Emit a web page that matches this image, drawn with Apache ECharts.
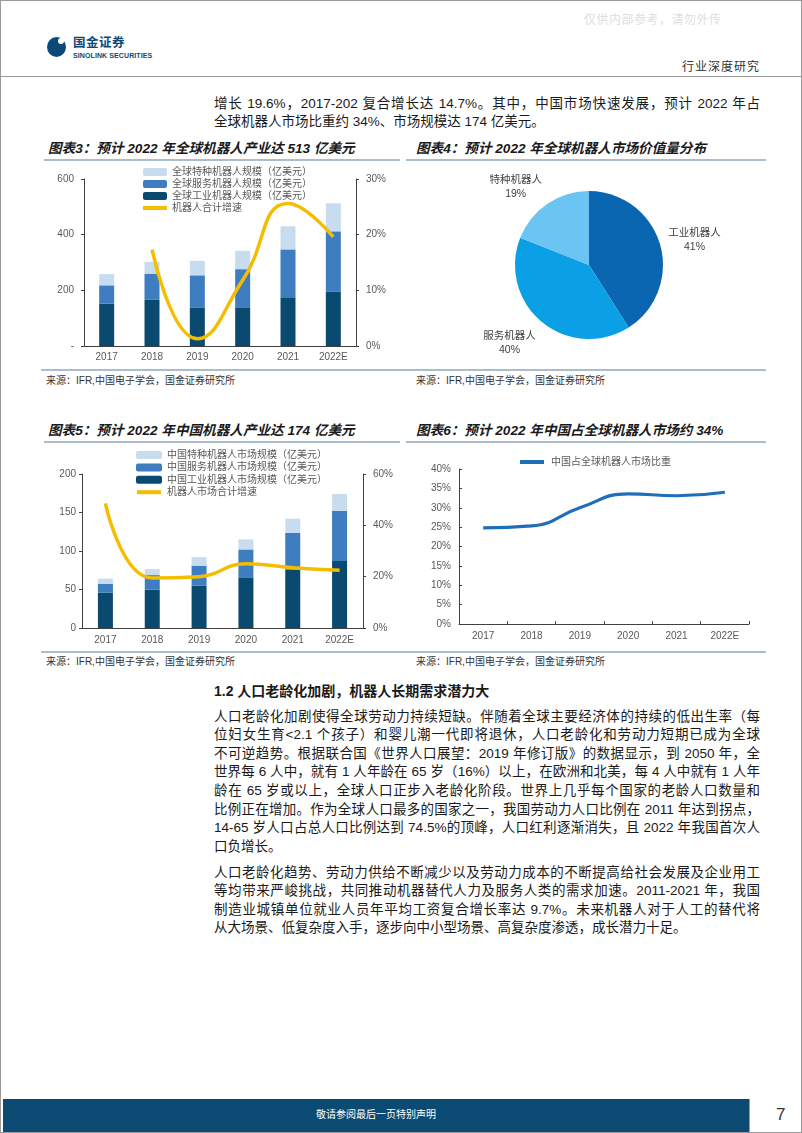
<!DOCTYPE html>
<html>
<head>
<meta charset="utf-8">
<script src="https://cdn.jsdelivr.net/npm/echarts@6/dist/echarts.min.js"></script>
<style>
  html,body{margin:0;padding:0;background:#fff;}
  #page{position:relative;width:802px;height:1133px;border:1px solid #9a9a9a;box-sizing:border-box;overflow:hidden;
    font-family:'Liberation Sans','Noto Sans CJK SC',sans-serif;color:#1a1a1a;}
  .abs{position:absolute;white-space:nowrap;}
  .title{font-size:13.6px;font-weight:bold;font-style:italic;line-height:16px;color:#1a1a1a;}
  .rule{position:absolute;height:2px;background:#a9bdcc;}
  .src{font-size:10px;line-height:12px;color:#333;}
  .para div{height:18.6px;line-height:18.6px;font-size:13.5px;width:546px;text-align:justify;text-align-last:justify;white-space:nowrap;}
  .para div.last{text-align-last:left;}
  .chart{position:absolute;}
</style>
</head>
<body>
<div id="page">
  <div class="abs" style="left:583px;top:9px;font-size:12px;color:#dedede;letter-spacing:0.5px;">仅供内部参考，请勿外传</div>
  <div class="abs" style="left:46px;top:36px;width:19px;height:20px;border-radius:50%;background:#0b4a78;"></div>
  <div class="abs" style="left:57px;top:37px;width:6px;height:6px;border-radius:50%;background:#fff;"></div>
  <div class="abs" style="left:72px;top:35px;font-size:12.5px;font-weight:bold;color:#0b4a78;line-height:15px;letter-spacing:0.5px;">国金证券</div>
  <div class="abs" style="left:72px;top:50px;font-size:7px;font-weight:bold;color:#0b4a78;line-height:9px;letter-spacing:0.1px;">SINOLINK SECURITIES</div>
  <div class="abs" style="left:681px;top:59px;font-size:12px;line-height:14px;color:#333;letter-spacing:1px;">行业深度研究</div>
  <div class="abs" style="left:0;top:75px;width:802px;height:1px;background:#9a9a9a;"></div>

  <div class="abs para" style="left:213px;top:93.7px;">
    <div>增长 19.6%，2017-202 复合增长达 14.7%。其中，中国市场快速发展，预计 2022 年占</div>
    <div class="last">全球机器人市场比重约 34%、市场规模达 174 亿美元。</div>
  </div>

  <div class="abs title" style="left:47px;top:140px;">图表3：预计 2022 年全球机器人产业达 513 亿美元</div>
  <div class="abs title" style="left:415px;top:140px;">图表4：预计 2022 年全球机器人市场价值量分布</div>
  <div class="rule" style="left:43px;top:158px;width:356px;"></div>
  <div class="rule" style="left:405px;top:158px;width:360px;"></div>

  <div id="c3" class="chart" style="left:40px;top:162px;width:360px;height:205px;"></div>
  <div id="c4" class="chart" style="left:405px;top:162px;width:360px;height:205px;"></div>

  <div class="rule" style="left:40px;top:368px;width:725px;"></div>
  <div class="abs src" style="left:45px;top:374px;">来源：IFR,中国电子学会，国金证券研究所</div>
  <div class="abs src" style="left:415px;top:374px;">来源：IFR,中国电子学会，国金证券研究所</div>

  <div class="abs title" style="left:47px;top:422px;">图表5：预计 2022 年中国机器人产业达 174 亿美元</div>
  <div class="abs title" style="left:415px;top:422px;">图表6：预计 2022 年中国占全球机器人市场约 34%</div>
  <div class="rule" style="left:43px;top:440px;width:356px;"></div>
  <div class="rule" style="left:405px;top:440px;width:360px;"></div>

  <div id="c5" class="chart" style="left:40px;top:445px;width:360px;height:205px;"></div>
  <div id="c6" class="chart" style="left:405px;top:445px;width:360px;height:205px;"></div>

  <div class="rule" style="left:40px;top:650px;width:725px;"></div>
  <div class="abs src" style="left:45px;top:655px;">来源：IFR,中国电子学会，国金证券研究所</div>
  <div class="abs src" style="left:415px;top:655px;">来源：IFR,中国电子学会，国金证券研究所</div>

  <div class="abs" style="left:213px;top:681px;font-size:14px;font-weight:bold;line-height:18px;">1.2 人口老龄化加剧，机器人长期需求潜力大</div>

  <div class="abs para" style="left:213px;top:706.7px;">
    <div>人口老龄化加剧使得全球劳动力持续短缺。伴随着全球主要经济体的持续的低出生率（每</div>
    <div>位妇女生育&lt;2.1 个孩子）和婴儿潮一代即将退休，人口老龄化和劳动力短期已成为全球</div>
    <div>不可逆趋势。根据联合国《世界人口展望：2019 年修订版》的数据显示，到 2050 年，全</div>
    <div>世界每 6 人中，就有 1 人年龄在 65 岁（16%）以上，在欧洲和北美，每 4 人中就有 1 人年</div>
    <div>龄在 65 岁或以上，全球人口正步入老龄化阶段。世界上几乎每个国家的老龄人口数量和</div>
    <div>比例正在增加。作为全球人口最多的国家之一，我国劳动力人口比例在 2011 年达到拐点，</div>
    <div>14-65 岁人口占总人口比例达到 74.5%的顶峰，人口红利逐渐消失，且 2022 年我国首次人</div>
    <div class="last">口负增长。</div>
  </div>
  <div class="abs para" style="left:213px;top:862.7px;">
    <div>人口老龄化趋势、劳动力供给不断减少以及劳动力成本的不断提高给社会发展及企业用工</div>
    <div>等均带来严峻挑战，共同推动机器替代人力及服务人类的需求加速。2011-2021 年，我国</div>
    <div>制造业城镇单位就业人员年平均工资复合增长率达 9.7%。未来机器人对于人工的替代将</div>
    <div class="last">从大场景、低复杂度入手，逐步向中小型场景、高复杂度渗透，成长潜力十足。</div>
  </div>

  <div class="abs" style="left:2px;top:1098px;width:746px;height:33px;background:#0b4a72;"></div>
  <div class="abs" style="left:2px;top:1108px;width:746px;text-align:center;font-size:10px;line-height:12px;color:#fff;">敬请参阅最后一页特别声明</div>
  <div class="abs" style="left:748px;top:1098px;width:1px;height:33px;background:#9a9a9a;"></div>
  <div class="abs" style="left:775px;top:1104px;font-size:17px;line-height:20px;color:#333;">7</div>
</div>

<script>
// ---------- data ----------
var years = ['2017', '2018', '2019', '2020', '2021', '2022E'];

var globalIndustrial = [152, 166, 137, 139, 175, 196];
var globalService    = [66, 94, 117, 137, 172, 216];
var globalSpecial    = [40, 42, 52, 66, 83, 101];
var globalGrowth     = [null, 17.3, 1.3, 11.8, 25.6, 19.6];

var pieNames  = ['工业机器人', '服务机器人', '特种机器人'];
var pieValues = [41, 40, 19];

var chinaIndustrial = [45.8, 49.7, 55, 65, 76, 87];
var chinaService    = [11.7, 19, 26, 37, 47.5, 65];
var chinaSpecial    = [6.5, 7.8, 11, 13, 18.5, 22];
var chinaGrowth     = [48.6, 19.5, 20, 25, 23.5, 22.5];

var chinaShare = [24.8, 25.3, 30, 33.6, 33.1, 34];

// ---------- style ----------
var FF = "'Liberation Sans','Noto Sans CJK SC',sans-serif";
var C_IND = '#0b4a70', C_SRV = '#3d7dc0', C_SPC = '#c8dcef', C_YEL = '#f5bd00';
var AX = '#404040', LB = '#595959';
var LINE_ICON = 'path://M0,0M0,2L24,2L24,6L0,6ZM24,8';

function baseAxisCat(margin, ticks) {
  return {
    type: 'category', data: years,
    axisLine: {lineStyle: {color: AX, width: 1}},
    axisTick: ticks ? {show: true, inside: true, length: 3, lineStyle: {color: AX}} : {show: false},
    axisLabel: {fontSize: 10, color: LB, margin: margin, fontFamily: FF}
  };
}
function valAxis(min, max, interval, fmt, pos, margin) {
  return {
    type: 'value', min: min, max: max, interval: interval, position: pos,
    axisLine: {show: true, lineStyle: {color: AX}},
    axisTick: {show: true, length: 3, lineStyle: {color: AX}},
    splitLine: {show: false},
    axisLabel: {fontSize: 10, color: LB, margin: margin, formatter: fmt, fontFamily: FF}
  };
}

// ---------- chart 3 ----------
var c3 = echarts.init(document.getElementById('c3'));
c3.setOption({
  animation: false,
  textStyle: {fontFamily: FF},
  legend: {
    orient: 'vertical', left: 97, top: -1, itemWidth: 24, itemHeight: 8, itemGap: 2,
    textStyle: {fontSize: 10, color: LB, lineHeight: 10, fontFamily: FF},
    data: ['全球特种机器人规模（亿美元）', '全球服务机器人规模（亿美元）', '全球工业机器人规模（亿美元）',
      {name: '机器人合计增速', icon: LINE_ICON}]
  },
  grid: {left: 43, right: 45, top: 16, bottom: 22},
  xAxis: baseAxisCat(6, false),
  yAxis: [
    valAxis(0, 600, 200, function (v) { return v === 0 ? '-' : v; }, 'left', 10),
    valAxis(0, 30, 10, '{value}%', 'right', 10)
  ],
  series: [
    {name: '全球工业机器人规模（亿美元）', type: 'bar', stack: 'a', barWidth: 15, data: globalIndustrial, itemStyle: {color: C_IND}},
    {name: '全球服务机器人规模（亿美元）', type: 'bar', stack: 'a', data: globalService, itemStyle: {color: C_SRV}},
    {name: '全球特种机器人规模（亿美元）', type: 'bar', stack: 'a', data: globalSpecial, itemStyle: {color: C_SPC}},
    {name: '机器人合计增速', type: 'line', yAxisIndex: 1, smooth: 0.5, symbol: 'none', data: globalGrowth,
      lineStyle: {color: C_YEL, width: 3.5}, itemStyle: {color: C_YEL}}
  ]
});

// ---------- chart 4 ----------
var pieLabelTweak = [
  {labelLine: {length: 13.5, length2: 0}, label: {distanceToLabelLine: -5}},
  {labelLine: {length: 28, length2: 0}, label: {distanceToLabelLine: -12}},
  {labelLine: {length: 20, length2: 0}, label: {distanceToLabelLine: -6}}
];
var c4 = echarts.init(document.getElementById('c4'));
c4.setOption({
  animation: false,
  textStyle: {fontFamily: FF},
  series: [{
    type: 'pie', center: [183, 102], radius: 74, startAngle: 90, clockwise: true,
    avoidLabelOverlap: false,
    data: pieNames.map(function (n, i) {
      return {name: n, value: pieValues[i], labelLine: pieLabelTweak[i].labelLine, label: pieLabelTweak[i].label};
    }),
    color: ['#0b66b1', '#0ba0e6', '#6cc4f3'],
    label: {
      show: true, position: 'outside', formatter: '{a|{b}}\n{a|{d}%}',
      rich: {a: {fontSize: 10.5, color: '#404040', align: 'center', width: 53, lineHeight: 14, fontFamily: FF}}
    },
    labelLine: {show: false},
    itemStyle: {borderWidth: 0}
  }]
});

// ---------- chart 5 ----------
var c5 = echarts.init(document.getElementById('c5'));
c5.setOption({
  animation: false,
  textStyle: {fontFamily: FF},
  legend: {
    orient: 'vertical', left: 90, top: -1, itemWidth: 26, itemHeight: 8, itemGap: 2.4,
    textStyle: {fontSize: 10, color: LB, lineHeight: 10, fontFamily: FF},
    data: ['中国特种机器人市场规模（亿美元）', '中国服务机器人市场规模（亿美元）', '中国工业机器人市场规模（亿美元）',
      {name: '机器人市场合计增速', icon: LINE_ICON}]
  },
  grid: {left: 41, right: 38, top: 28, bottom: 23},
  xAxis: baseAxisCat(7, false),
  yAxis: [
    valAxis(0, 200, 50, '{value}', 'left', 6),
    valAxis(0, 60, 20, '{value}%', 'right', 10)
  ],
  series: [
    {name: '中国工业机器人市场规模（亿美元）', type: 'bar', stack: 'a', barWidth: 15, data: chinaIndustrial, itemStyle: {color: C_IND}},
    {name: '中国服务机器人市场规模（亿美元）', type: 'bar', stack: 'a', data: chinaService, itemStyle: {color: C_SRV}},
    {name: '中国特种机器人市场规模（亿美元）', type: 'bar', stack: 'a', data: chinaSpecial, itemStyle: {color: C_SPC}},
    {name: '机器人市场合计增速', type: 'line', yAxisIndex: 1, smooth: 0.5, symbol: 'none', data: chinaGrowth,
      lineStyle: {color: C_YEL, width: 3.5}, itemStyle: {color: C_YEL}}
  ]
});

// ---------- chart 6 ----------
var c6 = echarts.init(document.getElementById('c6'));
var y6 = valAxis(0, 40, 5, '{value}%', 'left', 8);
y6.axisTick = {show: true, inside: true, length: 3, lineStyle: {color: AX}};
c6.setOption({
  animation: false,
  textStyle: {fontFamily: FF},
  legend: {
    left: 109, top: 6, itemWidth: 28, itemHeight: 8,
    textStyle: {fontSize: 10, color: LB, fontFamily: FF},
    data: [{name: '中国占全球机器人市场比重', icon: LINE_ICON}]
  },
  grid: {left: 53, right: 17, top: 23, bottom: 27},
  xAxis: baseAxisCat(7, true),
  yAxis: y6,
  series: [
    {name: '中国占全球机器人市场比重', type: 'line', smooth: 0.5, symbol: 'none', data: chinaShare,
      lineStyle: {color: '#1f6fb8', width: 3.2}, itemStyle: {color: '#1f6fb8'}}
  ]
});
</script>
</body>
</html>
